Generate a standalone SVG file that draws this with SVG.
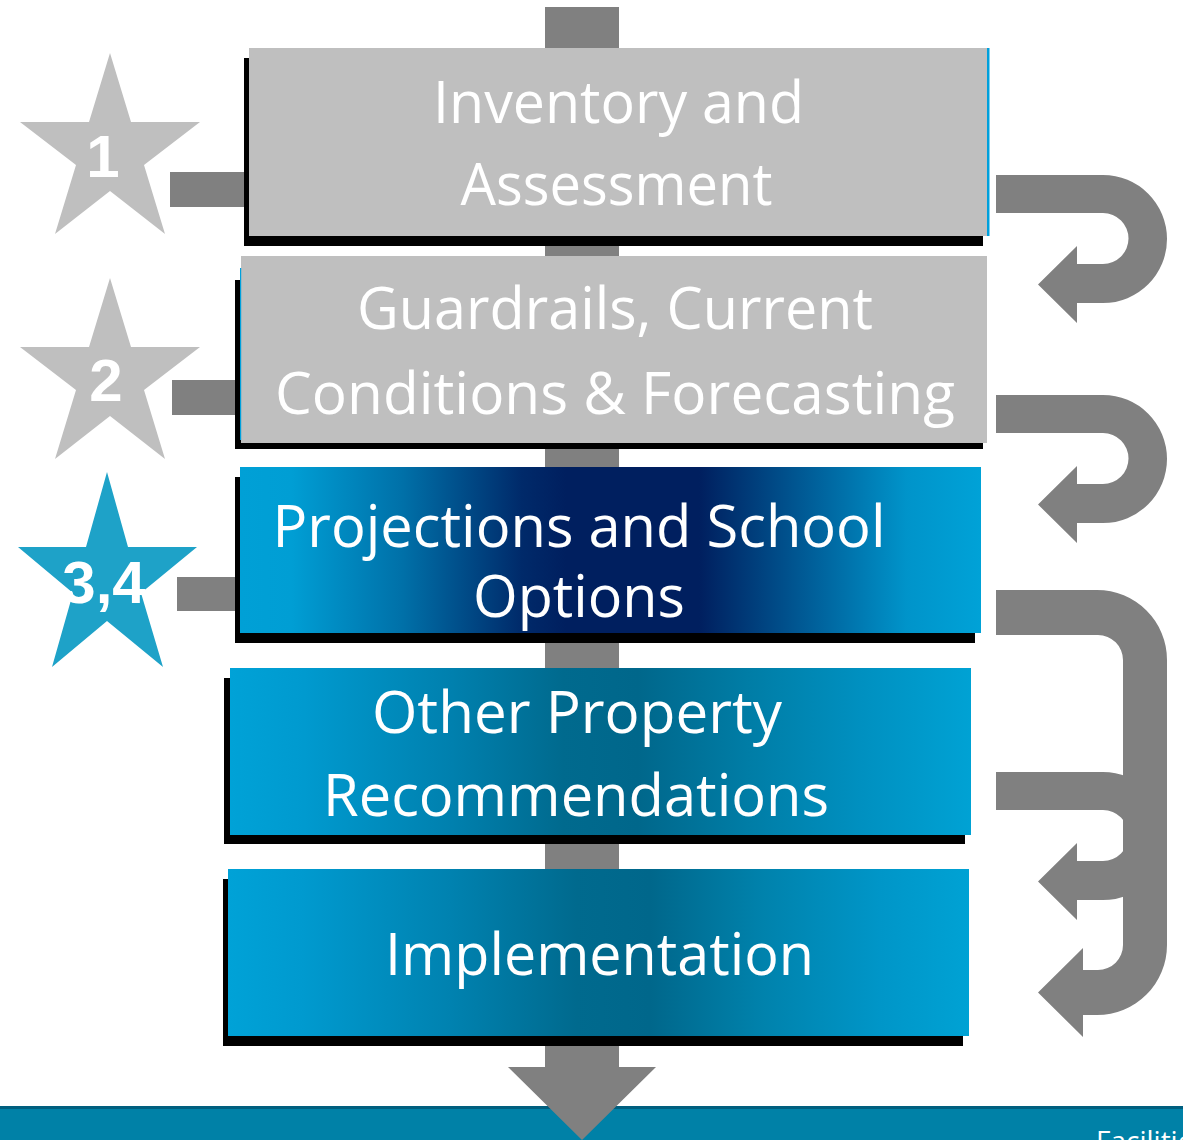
<svg xmlns="http://www.w3.org/2000/svg" width="1183" height="1140" viewBox="0 0 1183 1140">
<style>
.box-text{font-family:"Open Sans","Liberation Sans",sans-serif;font-size:58px;fill:#FFFFFF;text-anchor:middle}
.star-text{font-family:"Liberation Sans",Arial,sans-serif;font-weight:bold;font-size:60px;fill:#FFFFFF;text-anchor:middle}
.shadow{fill:#000000}
.gray-box{fill:#BFBFBF}
.gray-star{fill:#BFBFBF}
.conn{fill:#808080}
.footer-text{font-family:"Open Sans","Liberation Sans",sans-serif;font-size:28px;fill:#FFFFFF}
</style>
<defs>
<linearGradient id="g3" x1="0" y1="0" x2="1" y2="0">
<stop offset="0" stop-color="#00A0D6"/>
<stop offset="0.07" stop-color="#009ED4"/>
<stop offset="0.22" stop-color="#0070A8"/>
<stop offset="0.38" stop-color="#002A6A"/>
<stop offset="0.44" stop-color="#001F5F"/>
<stop offset="0.62" stop-color="#001F5F"/>
<stop offset="0.76" stop-color="#005A95"/>
<stop offset="0.9" stop-color="#0094CA"/>
<stop offset="1" stop-color="#00A2D7"/>
</linearGradient>
<linearGradient id="g4" x1="0" y1="0" x2="1" y2="0">
<stop offset="0" stop-color="#00A2D7"/>
<stop offset="0.1" stop-color="#009ACF"/>
<stop offset="0.3" stop-color="#0080AE"/>
<stop offset="0.45" stop-color="#006A8E"/>
<stop offset="0.55" stop-color="#00678B"/>
<stop offset="0.7" stop-color="#007DA6"/>
<stop offset="0.85" stop-color="#0090C0"/>
<stop offset="1" stop-color="#00A2D4"/>
</linearGradient>
<linearGradient id="g5" x1="0" y1="0" x2="1" y2="0">
<stop offset="0" stop-color="#00A2D7"/>
<stop offset="0.1" stop-color="#009ACF"/>
<stop offset="0.3" stop-color="#0082B0"/>
<stop offset="0.47" stop-color="#006A8E"/>
<stop offset="0.57" stop-color="#00678B"/>
<stop offset="0.72" stop-color="#0082AC"/>
<stop offset="0.88" stop-color="#0096C8"/>
<stop offset="1" stop-color="#00A2D4"/>
</linearGradient>
</defs>

<rect width="1183" height="1140" fill="#FFFFFF"/>

<g id="footer">
<rect x="0" y="1107" width="1183" height="33" fill="#0081A7"/>
<rect x="0" y="1106" width="1183" height="3" fill="#005F7F"/>
<text class="footer-text" x="1096" y="1151">Facilities</text>
</g>

<g id="connectors">
<path class="conn" d="M545 7 H619 V1067 H656 L582 1140 L508 1067 H545 Z"/>
<rect class="conn" x="170" y="172" width="76" height="35"/>
<rect class="conn" x="172" y="380" width="68" height="35"/>
<rect class="conn" x="177" y="577" width="60" height="34"/>
<path class="conn" d="M996 175 H1103 A64 64 0 0 1 1103 303 H1077 V323 L1038 284.5 L1077 246 V264 H1103 A25.5 25.5 0 0 0 1103 213 H996 Z"/>
<path class="conn" d="M996 395 H1103 A64 64 0 0 1 1103 523 H1077 V543 L1038 504.5 L1077 466 V484 H1103 A25.5 25.5 0 0 0 1103 433 H996 Z"/>
<path class="conn" d="M996 772 H1103 A64 64 0 0 1 1103 900 H1077 V920 L1038 881.5 L1077 843 V861 H1103 A25.5 25.5 0 0 0 1103 810 H996 Z"/>
<path class="conn" d="M996 590 H1097 A70 70 0 0 1 1167 660 V945 A70 70 0 0 1 1097 1015 H1083 V1037 L1038 992.5 L1083 948 V970 H1098 A25 25 0 0 0 1123 945 V660 A25 25 0 0 0 1098 635 H996 Z"/>
</g>

<g id="node-inventory">
<rect class="shadow" x="244" y="58" width="739" height="188"/>
<rect class="gray-box" x="249" y="48" width="738" height="188"/>
<rect x="987" y="48" width="2.5" height="188" fill="#00A0DC"/>
<text class="box-text" x="618.5" y="123" textLength="371" lengthAdjust="spacingAndGlyphs">Inventory and</text>
<text class="box-text" x="616.5" y="205" textLength="312" lengthAdjust="spacingAndGlyphs">Assessment</text>
</g>

<g id="node-guardrails">
<rect class="shadow" x="235" y="280" width="748" height="169"/>
<rect class="gray-box" x="241" y="256" width="746" height="187"/>
<rect x="240" y="268" width="1.2" height="172" fill="#00A0DC"/>
<text class="box-text" x="615" y="329" textLength="516" lengthAdjust="spacingAndGlyphs">Guardrails, Current</text>
<text class="box-text" x="615" y="414" textLength="680" lengthAdjust="spacingAndGlyphs">Conditions &amp; Forecasting</text>
</g>

<g id="node-projections">
<rect class="shadow" x="235" y="477" width="740" height="166"/>
<rect x="240" y="467" width="741" height="166" fill="url(#g3)"/>
<text class="box-text" x="579" y="547" textLength="613" lengthAdjust="spacingAndGlyphs">Projections and School</text>
<text class="box-text" x="579" y="617" textLength="212" lengthAdjust="spacingAndGlyphs">Options</text>
</g>

<g id="node-other-property">
<rect class="shadow" x="224" y="678" width="741" height="166"/>
<rect x="230" y="668" width="741" height="167" fill="url(#g4)"/>
<text class="box-text" x="577" y="733" textLength="410" lengthAdjust="spacingAndGlyphs">Other Property</text>
<text class="box-text" x="576" y="816" textLength="506" lengthAdjust="spacingAndGlyphs">Recommendations</text>
</g>

<g id="node-implementation">
<rect class="shadow" x="223" y="879" width="740" height="167"/>
<rect x="228" y="869" width="741" height="167" fill="url(#g5)"/>
<text class="box-text" x="599.5" y="975" textLength="429" lengthAdjust="spacingAndGlyphs">Implementation</text>
</g>

<g id="star-1">
<polygon class="gray-star" points="110,53 131,122 200,122 144,165 165,234 110,191 55,234 76,165 20,122 89,122"/>
<text class="star-text" x="103" y="177">1</text>
</g>

<g id="star-2">
<polygon class="gray-star" points="110,278 131,347 200,347 144,390 165,459 110,416 55,459 76,390 20,347 89,347"/>
<text class="star-text" x="106" y="401">2</text>
</g>

<g id="star-3-4">
<polygon fill="#1EA2C8" points="107,472 128,547 197,547 141,593 163,667 107,621 52,667 73,593 18,547 86,547"/>
<text class="star-text" x="104" y="603">3,4</text>
</g>
</svg>
